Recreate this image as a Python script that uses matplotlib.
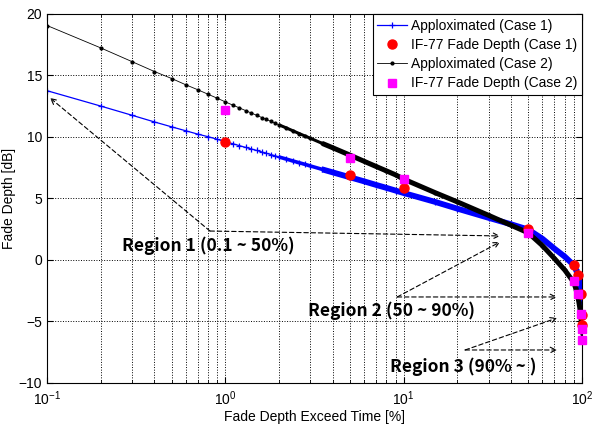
import numpy as np
import matplotlib
matplotlib.use('Agg')
import matplotlib.pyplot as plt

plt.rcParams['font.family'] = ['Liberation Sans', 'DejaVu Sans']
plt.rcParams['mathtext.default'] = 'regular'

# approximated curves
x_fit = [0.1, 0.2, 0.3, 0.4, 0.5, 0.6, 0.7, 0.8, 0.9, 1, 1.1, 1.2, 1.3, 1.4, 1.5, 1.6, 1.7,
         1.8, 1.9, 2, 2.2, 2.4, 2.6, 2.8, 3, 3.5, 4, 5, 6, 7, 8, 9, 10,
         15, 20, 30, 40, 50, 60, 70, 80, 90, 92, 94, 95, 96, 97, 98, 99, 99.5, 99.9]
case1_fit = [13.74, 12.49, 11.74, 11.2, 10.8, 10.48, 10.21, 10.0, 9.79, 9.6, 9.43, 9.27, 9.13,
             9.0, 8.88, 8.76, 8.65, 8.55, 8.45, 8.35, 8.18, 8.02, 7.88, 7.75, 7.62, 7.34,
             7.1, 6.7, 6.37, 6.08, 5.84, 5.62, 5.42, 4.7, 4.15, 3.4, 2.88, 2.45, 1.7, 0.9,
             0.25, -0.45, -0.75, -1.1, -1.3, -1.55, -1.9, -2.35, -3.0, -3.3, -3.6]
case2_fit = [19.04, 17.22, 16.1, 15.3, 14.73, 14.22, 13.82, 13.45, 13.13, 12.83, 12.57, 12.34,
             12.12, 11.92, 11.74, 11.56, 11.4, 11.25, 11.1, 10.96, 10.71, 10.47, 10.25, 10.05,
             9.87, 9.45, 9.1, 8.5, 8.0, 7.58, 7.22, 6.9, 6.55, 5.45, 4.7, 3.6, 2.8, 2.18, 1.14,
             0.1, -0.84, -1.85, -2.3, -2.8, -3.1, -3.45, -3.85, -4.35, -5.0, -5.5, -6.0]

# IF-77 points
x_if = [1, 5, 10, 50, 90, 95, 99, 99.9, 99.99]
case1_if = [9.6, 6.9, 5.8, 2.5, -0.45, -1.27, -2.8, -4.5, -5.3]
case2_if = [12.2, 8.3, 6.6, 2.2, -1.75, -2.8, -4.45, -5.6, -6.5]

fig = plt.figure(figsize=(5.93, 4.24), dpi=100)
ax = fig.add_axes([0.0793, 0.0974, 0.9022, 0.8703])

xf = np.array(x_fit)
mid = (xf >= 2) & (xf <= 4)
thick = xf >= 3.5

h1, = ax.plot(x_fit, case1_fit, '-', color='b', lw=0.9, marker='+', ms=5, mew=0.9,
              label='Apploximated (Case 1)')
ax.plot(xf[mid], np.array(case1_fit)[mid], '-', color='b', lw=2.6, solid_capstyle='butt')
ax.plot(xf[thick], np.array(case1_fit)[thick], '-', color='b', lw=4.2, solid_capstyle='butt')
h2, = ax.plot(x_if, case1_if, 'o', color='r', mec='r', ms=6.5, ls='none',
              label='IF-77 Fade Depth (Case 1)', clip_on=False, zorder=4)
h3, = ax.plot(x_fit, case2_fit, '-', color='k', lw=0.6, marker='.', ms=4,
              label='Apploximated (Case 2)')
ax.plot(xf[mid], np.array(case2_fit)[mid], '-', color='k', lw=2.2, solid_capstyle='butt')
ax.plot(xf[thick], np.array(case2_fit)[thick], '-', color='k', lw=3.6, solid_capstyle='butt')
h4, = ax.plot(x_if, case2_if, 's', color='#ff00ff', mec='#ff00ff', ms=6, ls='none',
              label='IF-77 Fade Depth (Case 2)', clip_on=False, zorder=5)

ax.set_xscale('log')
ax.set_xlim(0.1, 100)
ax.set_ylim(-10, 20)
ax.set_yticks(np.arange(-10, 21, 5))
ax.grid(True, which='both', axis='x', ls=':', color='k', lw=0.7)
ax.grid(True, which='major', axis='y', ls=':', color='k', lw=0.7)
ax.tick_params(which='both', direction='in', top=True, right=True, labelsize=10)
ax.tick_params(which='major', length=4)
ax.tick_params(which='minor', length=2)
ax.tick_params(axis='x', pad=5)
ax.set_xlabel('Fade Depth Exceed Time [%]', fontsize=10, labelpad=1)
ax.set_ylabel('Fade Depth [dB]', fontsize=10, labelpad=2)

leg = ax.legend(handles=[h1, h2, h3, h4], loc='upper right', borderaxespad=0,
                fontsize=10, fancybox=False, edgecolor='k', framealpha=1,
                handlelength=2.1, handletextpad=0.3, labelspacing=0.38, borderpad=0.35)
leg.get_frame().set_linewidth(0.8)

# region annotations
arr = dict(arrowstyle='->', ls=(0, (4, 2.5)), color='k', lw=0.8, shrinkA=0, shrinkB=0)
ax.annotate('', xy=(0.104, 13.15), xytext=(0.82, 2.33), arrowprops=arr)
ax.annotate('', xy=(34.7, 1.93), xytext=(0.82, 2.33), arrowprops=arr)
ax.annotate('', xy=(34.7, 1.44), xytext=(9.2, -3.03), arrowprops=arr)
ax.annotate('', xy=(72.4, -3.03), xytext=(9.2, -3.03), arrowprops=arr)
ax.annotate('', xy=(72.4, -4.74), xytext=(22.1, -7.34), arrowprops=arr)
ax.annotate('', xy=(72.4, -7.34), xytext=(22.1, -7.34), arrowprops=arr)

tfont = dict(family=['Noto Sans CJK KR', 'DejaVu Sans'], fontsize=12.5, fontweight='bold')
ax.text(0.264, 1.14, 'Region 1 (0.1 ~ 50%)', ha='left', va='center', **tfont)
ax.text(2.91, -4.17, 'Region 2 (50 ~ 90%)', ha='left', va='center', **tfont)
ax.text(8.39, -8.72, 'Region 3 (90% ~ )', ha='left', va='center', **tfont)

fig.savefig('out.png', dpi=100)
